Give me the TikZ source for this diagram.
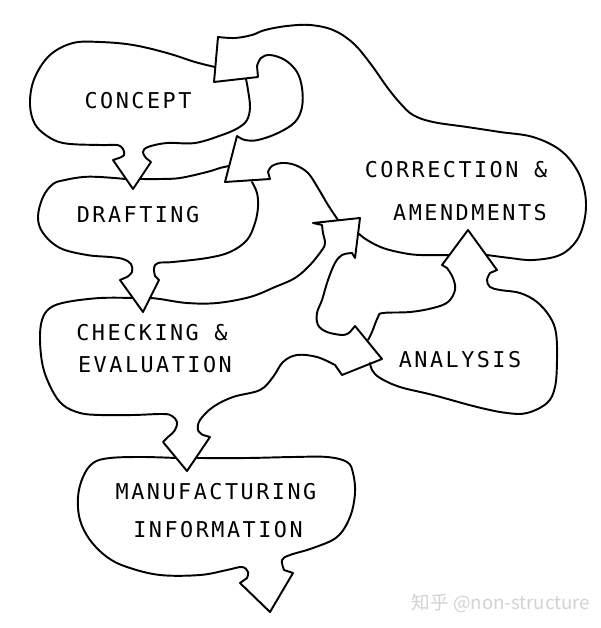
\documentclass[tikz,border=0pt]{standalone}
\usepackage{fontspec}
\newfontfamily\letr{DejaVu Sans Mono}[LetterSpace=11.5]
\newfontfamily\cjk{Noto Sans CJK SC}
\begin{document}
\begin{tikzpicture}[x=0.02cm,y=-0.02cm,
    outline/.style={draw=black,line width=1.1pt,line join=round,line cap=round},
    blobline/.style={smooth,tension=0.6},
    lbl/.style={font=\letr\fontsize{12.4}{14}\selectfont,inner sep=0pt},
    wmtext/.style={font=\cjk\fontsize{10.6}{13}\selectfont,text=gray!35,inner sep=0pt}]
  \useasboundingbox (0,0) rectangle (600,628);
  % concept, arrow down to drafting
  \draw[outline] plot[blobline] coordinates {(215,67) (195,62) (167,53) (133,45) (100,42) (73,43) (50,55) (35,77) (30,100) (33,120) (43,133) (63,143) (100,145) (117,145) (123,149) (124,155) (119,158)}
    -- (113,160) -- (133,189) -- (151,162) -- (146,158)
    -- plot[blobline] coordinates {(146,158) (143,152) (148,147) (167,143) (195,143) (222,135) (238,128) (247,120) (250,107) (248,90) (246,79)};
  % correction, arrows back to concept and drafting
  \draw[outline] plot[blobline] coordinates {(487,255) (510,258) (533,260) (560,255) (577,240) (585,217) (585,193) (577,170) (560,150) (533,137) (500,132) (467,127) (433,122) (413,115) (400,103) (387,87) (370,63) (353,43) (333,30) (310,25) (287,26) (265,30) (252,35) (235,38) (218,37)}
    -- (214,82) -- (258,77) -- (257,66)
    -- plot[blobline] coordinates {(257,66) (261,58) (270,55) (285,60) (297,72) (302,88) (302,107) (295,122) (278,133) (258,140) (245,140) (237,136)}
    -- (225,182) -- (270,179) -- (268,172)
    -- plot[blobline] coordinates {(268,172) (272,166) (282,163) (295,165) (308,173) (318,188) (328,205) (338,220)};
  \draw[outline] plot[blobline] coordinates {(358,233) (367,240) (383,248) (403,253) (420,255) (449,255)};
  % drafting
  \draw[outline] plot[blobline] coordinates {(126,179) (100,177) (83,177) (65,180) (53,184) (43,197) (38,217) (43,233) (60,248) (87,255) (110,257) (123,259) (131,264) (132,272) (127,277)}
    -- (120,280) -- (143,312) -- (159,280) -- (155,276)
    -- plot[blobline] coordinates {(155,276) (154,268) (158,263) (173,262) (207,258) (230,252) (247,240) (255,223) (258,207) (257,193) (252,182)};
  \draw[outline] plot[blobline] coordinates {(140,179) (160,179) (180,178) (207,172) (220,168) (229,166)};
  % checking, arrows to manufacturing, analysis, correction
  \draw[outline] plot[blobline] coordinates {(133,298) (100,298) (67,302) (50,308) (42,320) (40,340) (43,367) (52,390) (63,405) (80,413) (100,415) (133,415) (163,414) (172,416) (177,422) (175,430) (168,437)}
    -- (163,442) -- (187,471) -- (210,437) -- (203,435)
    -- plot[blobline] coordinates {(203,435) (198,430) (200,420) (213,407) (233,397) (260,390) (273,377) (283,362) (297,355) (317,357) (335,365)}
    -- (342,375) -- (382,359) -- (355,326) -- (350,332)
    -- plot[blobline] coordinates {(350,332) (343,335) (327,332) (318,325) (317,313) (322,300) (328,280) (335,263) (342,255) (352,253)}
    -- (355,258) -- (360,218) -- (313,223) -- (322,225)
    -- plot[blobline] coordinates {(322,225) (323,233) (325,243) (322,250) (310,265) (295,278) (275,287) (250,297) (217,303) (187,303) (160,299) (150,298)};
  % analysis, arrow up to correction
  \draw[outline] plot[blobline] coordinates {(368,340) (372,332) (378,317) (383,313) (410,312) (433,308) (448,302) (455,290) (453,278) (447,268)}
    -- (442,265) -- (468,230) -- (497,270) -- (490,273)
    -- plot[blobline] coordinates {(490,273) (487,280) (490,287) (500,290) (520,293) (537,302) (550,317) (556,333) (557,360) (555,387) (547,403) (527,413) (507,413) (477,407) (433,395) (400,387) (380,378) (372,370) (370,363)};
  % manufacturing
  \draw[outline] plot[blobline] coordinates {(176,458) (143,457) (110,458) (93,463) (83,477) (78,497) (80,520) (90,540) (107,557) (127,567) (160,575) (200,575) (227,570) (242,567) (248,572) (247,578)}
    -- (240,583) -- (270,612) -- (293,573) -- (284,570)
    -- plot[blobline] coordinates {(284,570) (282,560) (290,555) (313,548) (337,537) (350,517) (355,493) (353,473) (347,462) (327,457) (293,457) (247,458) (197,458)};
  \node[lbl] (concept) at (138,101) {CONCEPT};
  \node[lbl] (drafting) at (138,215) {DRAFTING};
  \node[lbl] (checking) at (152,333) {CHECKING \&};
  \node[lbl] (evaluation) at (155,365) {EVALUATION};
  \node[lbl] (analysis) at (460,360) {ANALYSIS};
  \node[lbl] (correction) at (456,170) {CORRECTION \&};
  \node[lbl] (amendments) at (470,213) {AMENDMENTS};
  \node[lbl] (manufacturing) at (216,492) {MANUFACTURING};
  \node[lbl] (information) at (218,530) {INFORMATION};
  \node[wmtext] (wmark) at (501,603) {知乎 @non-structure};
\end{tikzpicture}
\end{document}
